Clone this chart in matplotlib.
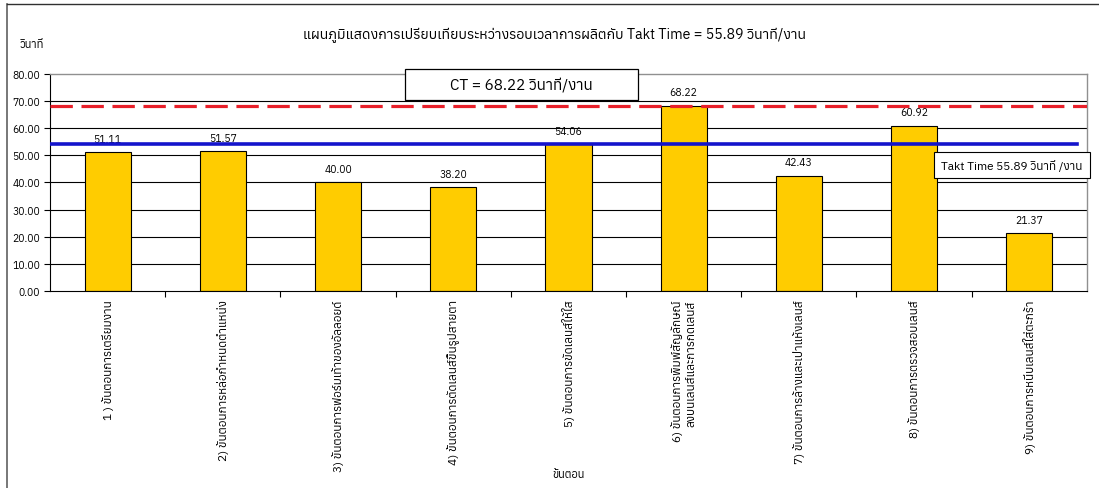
import matplotlib
matplotlib.use("Agg")
import matplotlib.pyplot as plt
from matplotlib import font_manager
from matplotlib.ft2font import FT2Font
from matplotlib.patches import Rectangle
from matplotlib.lines import Line2D

# หาฟอนต์ที่มีอักษรไทย
thai_families = []
for path in font_manager.findSystemFonts():
    try:
        f = FT2Font(path)
        if 0x0E01 in f.get_charmap():
            thai_families.append(f.family_name)
    except Exception:
        pass
thai_families = sorted(set(thai_families))
plt.rcParams['font.family'] = thai_families + ['DejaVu Sans']

# ข้อมูล
steps = [
    "1 ) ขั้นตอนการเตรียมงาน",
    "2) ขั้นตอนการหล่อกำหนดตำแหน่ง",
    "3) ขั้นตอนการฟอร์มเท้าของอัลลอยด์",
    "4) ขั้นตอนการตัดเลนส์ขึ้นรูปสายตา",
    "5) ขั้นตอนการขัดเลนส์ให้ใส",
    "6) ขั้นตอนการพิมพ์สัญลักษณ์\nลงบนเลนส์และการกดเลนส์",
    "7) ขั้นตอนการล้างและเป่าแห้งเลนส์",
    "8) ขั้นตอนการตรวจสอบเลนส์",
    "9) ขั้นตอนการหนีบเลนส์ใส่ตะกร้า",
]
cycle_times = [51.11, 51.57, 40.00, 38.20, 54.06, 68.22, 42.43, 60.92, 21.37]
ct_value = 68.22
takt_line = 54.3   # ตำแหน่งเส้นตามที่วาดในภาพ
takt_label = "Takt Time 55.89 วินาที /งาน"
ct_label = "CT = 68.22 วินาที/งาน"
title = "แผนภูมิแสดงการเปรียบเทียบระหว่างรอบเวลาการผลิตกับ Takt Time = 55.89 วินาที/งาน"
y_ticks = list(range(0, 81, 10))

fig = plt.figure(figsize=(10.99, 4.89), dpi=100)
ax = fig.add_axes([0.0455, 0.403, 0.9435, 0.444])

x = range(len(steps))
ax.set_xlim(-0.5, len(steps) - 0.5)
ax.set_ylim(0, 80)

# เส้นกริด (ยกเว้นเส้นบนสุด)
ax.hlines(y_ticks[1:-1], -0.5, len(steps) - 0.5, color='black', linewidth=0.8, zorder=1)

bars = ax.bar(x, cycle_times, width=0.4, color='#FFCC00', edgecolor='black', linewidth=0.8, zorder=2)
for b, v in zip(bars, cycle_times):
    ax.annotate(f"{v:.2f}", (b.get_x() + b.get_width() / 2, v), xytext=(0, 6),
                textcoords='offset points', ha='center', va='bottom', fontsize=7.5)

ax.axhline(ct_value, color='#E8202A', linewidth=2.3, linestyle=(0, (7, 2.7)), zorder=3)
ax.axhline(takt_line, xmax=0.99, color='#1414CC', linewidth=2.6, zorder=3)

ax.set_yticks(y_ticks)
ax.set_yticklabels([f"{v:.2f}" for v in y_ticks], fontsize=7.5)
ax.set_xticks([i + 0.5 for i in range(len(steps) - 1)], minor=False)
ax.set_xticklabels([])
ax.set_xticks(list(x), minor=True)
ax.set_xticklabels(steps, minor=True, rotation=90, va='top', ha='center',
                   multialignment='right', fontsize=8.5, linespacing=1.35)
ax.tick_params(axis='x', which='minor', length=0, pad=6)
ax.tick_params(axis='x', which='major', length=4, direction='out')
ax.tick_params(axis='y', length=4, pad=3)
for s in ['top', 'right']:
    ax.spines[s].set_color('#909090')
    ax.spines[s].set_linewidth(1)

# กล่องข้อความ CT
ax.add_patch(Rectangle((2.58, 70.4), 2.02, 11.4, facecolor='white', edgecolor='black',
                       linewidth=0.9, zorder=5, clip_on=False))
ax.text(3.59, 76.1, ct_label, ha='center', va='center', fontsize=11, zorder=6)
# กล่องข้อความ Takt Time
ax.text(7.85, 46.5, takt_label, ha='center', va='center', fontsize=8.5, zorder=5,
        bbox=dict(boxstyle='square,pad=0.6', facecolor='white', edgecolor='black', linewidth=0.8))

fig.text(0.505, 0.928, title, ha='center', va='center', fontsize=10.2)
fig.text(0.018, 0.908, "วินาที", ha='left', va='center', fontsize=8, fontweight='bold')
fig.text(0.517, 0.028, "ขั้นตอน", ha='center', va='center', fontsize=8, fontweight='bold')

# กรอบรอบนอก
fig.add_artist(Line2D([7 / 1099, 7 / 1099], [0, 1 - 5 / 489], color='#606060', linewidth=1.2))
fig.add_artist(Line2D([7 / 1099, 1], [1 - 5 / 489, 1 - 5 / 489], color='#303030', linewidth=1.0))

fig.savefig("out.png", dpi=100)
